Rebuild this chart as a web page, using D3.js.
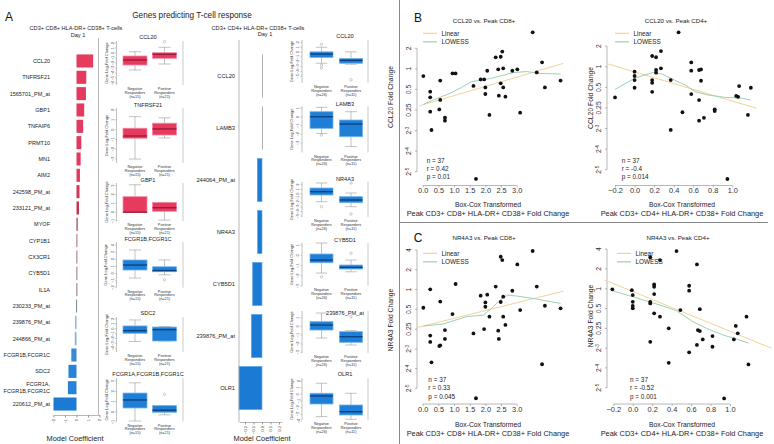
<!DOCTYPE html>
<html><head><meta charset="utf-8">
<script src="https://cdn.jsdelivr.net/npm/d3@7"></script>
<style>body{margin:0;background:#fff}svg{display:block}text{font-family:'Liberation Sans',Arial,Helvetica,sans-serif}</style>
</head><body>
<svg id="c" width="774" height="444"></svg>
<script>
// ---------------- DATA ----------------
const cd8Genes = ["CCL20","TNFRSF21","1565701_PM_at","GBP1","TNFAIP6","PRMT10","MN1","AIM2","242598_PM_at","233121_PM_at","MYOF","CYP1B1","CX3CR1","CYB5D1","IL1A","230233_PM_at","239876_PM_at","244866_PM_at","FCGR1B,FCGR1C","SDC2","FCGR1A,\nFCGR1B,FCGR1C","220612_PM_at"];
const cd8Coef = [1.45,0.85,0.82,0.67,0.58,0.42,0.36,0.30,0.26,0.22,0.10,0.05,0.03,0.02,0.01,-0.02,-0.12,-0.15,-0.45,-0.70,-0.75,-2.0];
const cd8CoefTicks = [-2,-1,0,1,2];

const cd4Genes = ["CCL20","LAMB3","244064_PM_at","NR4A3","CYB5D1","239876_PM_at","OLR1"];
const cd4Coef = [0,0,-0.055,-0.052,-0.11,-0.125,-0.27];
const cd4CoefTicks = [-0.2,-0.1,0.0,0.1,0.2];

// box stats: [lower whisker, Q1, median, Q3, upper whisker]
const cd8BoxGenes = ["CCL20","TNFRSF21","GBP1","FCGR1B,FCGR1C","SDC2","FCGR1A,FCGR1B,FCGR1C"];
const cd8BoxNeg = [[-3.4,-2.4,-1.4,-0.6,0.26],[-3.0,-0.88,-0.65,0.14,1.32],[-0.05,-0.05,0,1.75,3.1],[-0.65,0.48,1.18,1.89,3.3],[-2.6,-0.93,-0.39,0.57,1.8],[-0.9,0.37,1.15,1.83,2.83]];
const cd8BoxPos = [[-2.2,-1.06,-0.26,0.06,1.14],[-0.85,-0.55,0.07,0.65,1.2],[-0.9,0.1,0.5,1.1,1.1],[-0.2,0.24,0.4,0.94,1.9],[-2.5,-2.5,-0.2,0.35,0.45],[-0.3,-0.05,0.15,0.6,0.6]];
const cd8BoxNegOut = [[],[],[],[],[],[]];
const cd8BoxPosOut = [[2.26],[],[],[-0.9],[],[1.7]];
const cd8BoxTicks = [[2,1,0,-1,-2,-3,-4,-5,-6],[2,1,0,-1,-2,-3],[3,2,1,0,-1],[4,3,2,1,0,-1,-2],[2,1,0,-1,-2,-3,-4],[3,2,1,0,-1]];
const cd8Groups = [["Negative","Responders","(n=15)"],["Positive","Responders","(n=21)"]];

const cd4BoxGenes = ["CCL20","LAMB3","NR4A3","CYB5D1","239876_PM_at","OLR1"];
const cd4BoxNeg = [[-2.3,-1.1,-0.4,0.06,1.0],[-1.9,-1.32,0.0,0.58,1.08],[-1.79,-0.3,0.44,1.26,2.38],[-1.72,-0.72,-0.46,0.13,1.2],[-1.34,-0.41,0.17,0.56,1.57],[-3.35,-1.45,-0.25,0.16,1.66]];
const cd4BoxPos = [[-2.5,-2.3,-1.7,-1.3,0.06],[-3.4,-2.28,-0.83,-0.37,0.58],[-2.9,-2.01,-1.41,-0.67,0.15],[-1.6,-1.33,-1.17,-0.94,-0.46],[-2.15,-1.84,-1.19,-0.6,-0.49],[-3.74,-3.1,-2.6,-1.6,0.16]];
const cd4BoxNegOut = [[1.6,-2.7,-3.3],[-2.1],[-2.9],[-2.1],[],[]];
const cd4BoxPosOut = [[-5.7],[],[2.38,-4.53],[0.2],[1.14],[]];
const cd4BoxTicks = [[2,1,0,-1,-2,-3,-4,-5],[1,0,-1,-2,-3],[2,1,0,-1,-2,-3,-4,-5],[1,0,-1,-2,-3],[1,0,-1,-2,-3],[2,1,0,-1,-2,-3,-4]];
const cd4Groups = [["Negative","Responders","(n=26)"],["Positive","Responders","(n=11)"]];

// scatter data (y values are log2 fold change)
const cd8PeakX = [0.02,0.24,0.24,0.24,0.28,0.53,0.56,0.56,0.71,0.71,0.95,1.05,1.62,1.85,1.96,2.0,2.0,2.06,2.13,1.70,2.33,2.41,2.43,2.49,2.54,2.49,2.57,2.57,2.64,2.86,3.02,3.11,3.51,3.64,3.81,3.90,4.40];
const ccl20VsCD8 = [-0.35,-1.11,-1.38,-2.08,-2.97,-1.97,-1.51,-0.57,-2.37,-2.52,-0.22,-0.22,-0.83,-0.51,-0.51,-1.22,-0.90,-0.09,-2.24,-5.35,0.56,-0.02,-1.30,0.59,0.84,-0.70,0.03,-0.90,-1.35,-0.09,-0.02,-2.13,1.78,-0.17,0.32,-0.90,-0.57];
const nr4a3VsCD8 = [-0.92,0.01,-2.33,-2.65,-3.68,-2.86,-2.82,-0.61,-2.05,-2.50,-1.24,0.28,-2.22,-0.31,-2.0,-0.65,-0.87,-0.26,-1.37,-5.50,0.15,-2.08,-2.50,1.66,1.49,-0.63,-0.36,-1.37,-1.79,-0.06,1.27,-1.04,1.95,0.15,-3.78,-0.82,-0.95];
const cd4PeakXB = [-0.2,0.0,0.0,0.0,0.0,0.18,0.22,0.27,0.18,0.18,0.18,0.22,0.22,0.27,0.37,0.37,0.45,0.49,0.58,0.58,0.58,0.66,0.68,0.68,0.66,0.66,0.71,0.82,0.82,0.95,1.04,1.06,1.07,1.16,1.19];
const ccl20VsCD4 = [-1.49,-0.24,-0.45,-0.65,-1.02,0.52,0.46,0.76,-0.65,-0.78,-1.22,-0.16,-0.29,-0.08,-0.65,-3.07,1.67,-2.21,0.21,-0.19,-1.33,-0.16,-0.13,-0.68,-1.62,-2.62,-2.48,-2.07,-2.15,-5.45,-1.42,-1.46,-0.94,-2.34,-1.02];
const cd4PeakXC = [-0.21,-0.01,0.0,0.0,0.0,0.0,0.18,0.18,0.18,0.18,0.28,0.22,0.22,0.22,0.22,0.28,0.37,0.37,0.45,0.49,0.58,0.58,0.58,0.66,0.67,0.69,0.69,0.66,0.72,0.82,0.82,0.94,1.04,1.06,1.08,1.17,1.19];
const nr4a3VsCD4 = [-0.03,-0.07,-0.32,-0.66,-0.87,-0.99,-0.66,-0.74,-2.68,1.59,1.45,0.22,0.10,-0.27,-1.24,-1.41,-2.0,-3.74,1.90,-1.08,0.15,-0.10,-3.21,1.23,-2.09,-2.14,-1.03,-2.84,-2.56,-2.39,-2.93,-5.54,-2.56,-1.88,-2.25,-1.41,-3.82];

// fitted lines [x, log2 y]
const linB1 = [[-0.11,-1.80],[4.49,0.27]];
const lowB1 = [[0.02,-1.72],[0.34,-1.51],[0.87,-1.19],[1.24,-0.90],[1.56,-0.62],[1.88,-0.54],[2.15,-0.47],[2.47,-0.35],[2.89,-0.18],[3.32,-0.13],[3.74,-0.22],[4.40,-0.25]];
const linB2 = [[-0.27,0.13],[1.25,-2.02]];
const lowB2 = [[-0.2,-1.10],[0.0,-0.56],[0.18,-0.29],[0.28,-0.35],[0.41,-0.65],[0.52,-0.89],[0.62,-1.21],[0.75,-1.37],[0.93,-1.49],[1.10,-1.53],[1.19,-1.62]];
const linC1 = [[-0.15,-1.91],[4.5,-0.08]];
const lowC1 = [[0.02,-1.85],[0.66,-1.74],[1.40,-1.37],[1.94,-1.29],[2.20,-0.95],[2.47,-0.53],[2.70,-0.28],[3.0,-0.33],[3.53,-0.45],[3.96,-0.58],[4.40,-0.70]];
const linC2 = [[-0.29,0.44],[1.43,-3.01]];
const lowC2 = [[-0.21,-0.1],[0.0,-0.40],[0.31,-0.87],[0.45,-1.11],[0.62,-1.67],[0.76,-2.0],[0.93,-2.34],[1.07,-2.54],[1.19,-2.75]];

const cd8XTicks = [0,0.5,1,1.5,2,2.5,3];
const cd4XTicks = [-0.2,0,0.2,0.4,0.6,0.8,1.0];
const bYTicks = [1,0,-1,-2,-3,-4,-5];
const cYTicks = [2,1,0,-1,-2,-3,-4,-5];
const statsB1 = ["n = 37","r = 0.42","p = 0.01"];
const statsB2 = ["n = 37","r = -0.4","p = 0.014"];
const statsC1 = ["n = 37","r = 0.33","p = 0.045"];
const statsC2 = ["n = 37","r = -0.52","p = 0.001"];

// ---------------- DRAW ----------------
const svg = d3.select("#c");
function T(x,y,s,size,o={}){
  const t = svg.append("text").attr("x",x).attr("y",y).attr("font-size",size)
    .attr("text-anchor",o.anchor||"middle").attr("dominant-baseline","central")
    .attr("fill",o.fill||"#222").text(s);
  if(o.rot) t.attr("transform",`rotate(${o.rot},${x},${y})`);
  return t;
}
function L(x1,y1,x2,y2,c,w){svg.append("line").attr("x1",x1).attr("y1",y1).attr("x2",x2).attr("y2",y2).attr("stroke",c).attr("stroke-width",w);}

T(9,17,"A",12,{fill:"#111"});
T(192,15,"Genes predicting T-cell response",8.2);
T(76,28,"CD3+ CD8+ HLA-DR+ CD38+ T-cells",5.6);
T(78,34.5,"Day 1",5.6);
T(258,27.5,"CD3+ CD4+ HLA-DR+ CD38+ T-cells",5.6);
T(265,33.5,"Day 1",5.6);

// left coefficient bar chart
const yL = d3.scaleBand().domain(cd8Genes).range([52.8,412.2]).paddingInner(0.2).paddingOuter(0.1);
const xL = d3.scaleLinear().domain([-2,2]).range([53.5,99.5]);
const colL = d3.scaleLinear().domain([-2,-0.5,-0.13,-0.01,0.02,0.12,0.3,1.5])
  .range(["#1b7bd4","#2a84d6","#86b6e2","#556060","#8a4a50","#9a2e45","#e23a5e","#e63a5f"]);
svg.append("g").selectAll("rect").data(cd8Genes).join("rect")
  .attr("x",(d,i)=>Math.min(xL(0),xL(cd8Coef[i])))
  .attr("y",d=>yL(d)).attr("height",yL.bandwidth())
  .attr("width",(d,i)=>Math.max(0.8,Math.abs(xL(cd8Coef[i])-xL(0))))
  .attr("fill",(d,i)=>colL(cd8Coef[i]));
cd8Genes.forEach(g=>{
  const parts=g.split("\n"); const c=yL(g)+yL.bandwidth()/2;
  parts.forEach((p,k)=>T(50,c+(k-(parts.length-1)/2)*6.5,p,5.5,{anchor:"end"}));
});
L(98.5,38,98.5,415,"#999",0.7);
const axL = svg.append("g").attr("transform","translate(0,415)")
  .call(d3.axisBottom(xL).tickValues(cd8CoefTicks).tickSize(2.5).tickSizeOuter(0).tickFormat(d3.format("d")));
axL.select(".domain").attr("stroke","#999").attr("stroke-width",0.7);
axL.selectAll(".tick line").attr("stroke","#999");
axL.selectAll(".tick text").attr("font-size",4).attr("fill","#444").attr("transform","rotate(-90)")
  .attr("x",-4).attr("y",0).attr("dy","0.35em").attr("text-anchor","end");
T(75,438,"Model Coefficient",7.4);

// middle coefficient bar chart
const yM = d3.scaleBand().domain(cd4Genes).range([50,414]).paddingInner(0.17).paddingOuter(0.085);
const xM = d3.scaleLinear().domain([-0.27,0.235]).range([239,282]);
svg.append("g").selectAll("rect").data(cd4Genes).join("rect")
  .attr("x",(d,i)=>Math.min(xM(0),xM(cd4Coef[i])))
  .attr("y",d=>yM(d)).attr("height",yM.bandwidth())
  .attr("width",(d,i)=>Math.max(0.8,Math.abs(xM(cd4Coef[i])-xM(0))))
  .attr("fill",(d,i)=>cd4Coef[i]===0?"#9a9a9a":"#1b7bd4")
  .attr("stroke",(d,i)=>cd4Coef[i]===0?"none":"#5aa6e6").attr("stroke-width",0.6);
cd4Genes.forEach(g=>T(235,yM(g)+yM.bandwidth()/2,g,5.7,{anchor:"end"}));
L(239,40,239,422,"#999",0.7);
const axM = svg.append("g").attr("transform","translate(0,422)")
  .call(d3.axisBottom(xM).tickValues(cd4CoefTicks).tickSize(2.5).tickSizeOuter(0).tickFormat(d3.format(".1f")));
axM.select(".domain").attr("stroke","#999").attr("stroke-width",0.7);
axM.selectAll(".tick line").attr("stroke","#999");
axM.selectAll(".tick text").attr("font-size",4.2).attr("fill","#444").attr("transform","rotate(-90)")
  .attr("x",-4).attr("y",0).attr("dy","0.35em").attr("text-anchor","end");
T(262,438,"Model Coefficient",7.4);

// box plot columns
const red = {fill:"#e63a5f",stroke:"#f48aa2",med:"#9c1737"};
const blue = {fill:"#1f7fd6",stroke:"#72b6ec",med:"#0b3e7c"};
const boxCols = [
 {genes:cd8BoxGenes,neg:cd8BoxNeg,pos:cd8BoxPos,negOut:cd8BoxNegOut,posOut:cd8BoxPosOut,ticks:cd8BoxTicks,groups:cd8Groups,
  axisX:116.5,rightX:183,centers:[135,164.5],bw:24,titleX:148,pal:[red,red,red,blue,blue,blue],
  panels:[{d:[2.4,-6.4],r:[41,85],ty:37},{d:[2.2,-3.4],r:[108,163],ty:105},{d:[3.3,-1.0],r:[183,221],ty:180},
          {d:[4.4,-2.0],r:[242.2,287.6],ty:239},{d:[2.4,-4.75],r:[317,352],ty:313},{d:[3.3,-0.95],r:[378,421.5],ty:374}]},
 {genes:cd4BoxGenes,neg:cd4BoxNeg,pos:cd4BoxPos,negOut:cd4BoxNegOut,posOut:cd4BoxPosOut,ticks:cd4BoxTicks,groups:cd4Groups,
  axisX:302,rightX:368,centers:[321.5,351],bw:23,titleX:345,pal:[blue,blue,blue,blue,blue,blue],
  panels:[{d:[2.5,-6.37],r:[40,83],ty:36},{d:[1.23,-4.08],r:[106,152.5],ty:104},{d:[2.6,-5.2],r:[182,217],ty:179},
          {d:[1.2,-2.98],r:[243,286],ty:240},{d:[1.8,-3.08],r:[311,353],ty:313},{d:[2.45,-3.85],r:[378,420],ty:374}]}
];
boxCols.forEach(col=>{
  col.panels.forEach((p,i)=>{
    const y = d3.scaleLinear().domain(p.d).range(p.r);
    const pal = col.pal[i];
    T(col.titleX,p.ty,col.genes[i],5.6);
    L(col.axisX,p.r[0],col.axisX,p.r[1],"#999",0.6);
    L(col.rightX,p.r[0],col.rightX,p.r[1],"#aaa",0.6);
    col.ticks[i].forEach(v=>{
      L(col.axisX-1.5,y(v),col.axisX,y(v),"#999",0.5);
      T(col.axisX-4,y(v),d3.format("d")(v),4,{rot:-90,fill:"#444"});
    });
    T(col.axisX-10.5,(p.r[0]+p.r[1])/2,"Gene Log,Fold Change",4,{rot:-90,fill:"#333"});
    [col.neg[i],col.pos[i]].forEach((s,k)=>{
      const cx = col.centers[k], hw = col.bw/2;
      L(cx,y(s[4]),cx,y(s[3]),"#999",0.6);
      L(cx,y(s[1]),cx,y(s[0]),"#999",0.6);
      L(cx-hw/2,y(s[4]),cx+hw/2,y(s[4]),"#999",0.6);
      L(cx-hw/2,y(s[0]),cx+hw/2,y(s[0]),"#999",0.6);
      svg.append("rect").attr("x",cx-hw).attr("y",y(s[3])).attr("width",col.bw)
        .attr("height",Math.max(0.8,y(s[1])-y(s[3]))).attr("fill",pal.fill).attr("stroke",pal.stroke).attr("stroke-width",0.8);
      L(cx-hw,y(s[2]),cx+hw,y(s[2]),pal.med,1.3);
      (k===0?col.negOut[i]:col.posOut[i]).forEach(o=>{
        svg.append("circle").attr("cx",cx).attr("cy",y(o)).attr("r",1.2).attr("fill","none").attr("stroke","#999").attr("stroke-width",0.5);
      });
      col.groups[k].forEach((t,j)=>T(cx,p.r[1]+4+j*3.8,t,3.8,{fill:"#333"}));
    });
  });
});

// right panels frame
L(399.5,0,399.5,444,"#8a8a8a",1);
L(399.5,222.5,768,222.5,"#8a8a8a",1);
T(418,18,"B",12,{fill:"#111"});
T(418,238,"C",12,{fill:"#111"});

const linCol = "#f3d29a", lowCol = "#9dd0b4";
const scatters = [
 {title:"CCL20 vs. Peak CD8+",x:cd8PeakX,y:ccl20VsCD8,lin:linB1,low:lowB1,stats:statsB1,ylab:"CCL20 Fold Change",xlab:"Peak CD3+ CD8+ HLA-DR+ CD38+ Fold Change",
  xt:cd8XTicks,xf:d3.format(".1f"),yt:bYTicks,
  xd:[-0.15,4.5],xr:[418,563.7],yd:[2.1,-5.65],yr:[25.7,185.1],axY:185.5,axX:417,tx:484,ty:20,lx:423,ly:33.3,sx:426.7,sy:160,ylx:390,yly:97,xlx:488,xly:204},
 {title:"CCL20 vs. Peak CD4+",x:cd4PeakXB,y:ccl20VsCD4,lin:linB2,low:lowB2,stats:statsB2,ylab:"CCL20 Fold Change",xlab:"Peak CD3+ CD4+ HLA-DR+ CD38+ Fold Change",
  xt:cd4XTicks,xf:d3.format(".1f"),yt:bYTicks,
  xd:[-0.27,1.3],xr:[608.2,761.6],yd:[2.0,-5.75],yr:[25.5,185.2],axY:185.5,axX:607,tx:676,ty:20,lx:615,ly:33.3,sx:621.7,sy:160,ylx:590,yly:98,xlx:682,xly:204},
 {title:"NR4A3 vs. Peak CD8+",x:cd8PeakX,y:nr4a3VsCD8,lin:linC1,low:lowC1,stats:statsC1,ylab:"NR4A3 Fold Change",xlab:"Peak CD3+ CD8+ HLA-DR+ CD38+ Fold Change",
  xt:cd8XTicks,xf:d3.format(".1f"),yt:cYTicks,
  xd:[-0.15,4.5],xr:[418,563.7],yd:[2.3,-5.7],yr:[244.1,402.2],axY:404,axX:417,tx:484,ty:237,lx:423,ly:253.3,sx:428.3,sy:379.3,ylx:390,yly:320,xlx:488,xly:424},
 {title:"NR4A3 vs. Peak CD4+",x:cd4PeakXC,y:nr4a3VsCD4,lin:linC2,low:lowC2,stats:statsC2,ylab:"NR4A3 Fold Change",xlab:"Peak CD3+ CD4+ HLA-DR+ CD38+ Fold Change",
  xt:cd4XTicks,xf:d3.format(".1f"),yt:cYTicks,
  xd:[-0.3,1.42],xr:[603.6,770.8],yd:[2.3,-5.7],yr:[243.2,401.6],axY:404,axX:607,tx:678,ty:237,lx:617,ly:253.3,sx:630,sy:379.3,ylx:590,yly:316,xlx:682,xly:424}
];
function powLabel(l){
  if(l>=-2) return {base:String(Math.pow(2,l)),sup:null};
  return {base:"2",sup:String(l)};
}
scatters.forEach(s=>{
  const x = d3.scaleLinear().domain(s.xd).range(s.xr);
  const y = d3.scaleLinear().domain(s.yd).range(s.yr);
  T(s.tx,s.ty,s.title,6.2);
  // x axis
  const ax = svg.append("g").attr("transform",`translate(0,${s.axY})`)
    .call(d3.axisBottom(x).tickValues(s.xt).tickSize(2).tickSizeOuter(0).tickFormat(s.xf));
  ax.select(".domain").remove();
  L(x(s.xt[0]),s.axY,x(s.xt[s.xt.length-1]),s.axY,"#888",0.6);
  ax.selectAll(".tick line").attr("stroke","#888").attr("stroke-width",0.6);
  ax.selectAll(".tick text").attr("font-size",7.4).attr("fill","#333").attr("y",2.5).attr("dy","0.71em");
  // y axis
  L(s.axX,y(s.yt[0]),s.axX,y(s.yt[s.yt.length-1]),"#888",0.6);
  s.yt.forEach(l=>{
    L(s.axX-2,y(l),s.axX,y(l),"#888",0.6);
    const lab = powLabel(l);
    const t = svg.append("text").attr("x",s.axX-5.5).attr("y",y(l)).attr("font-size",6.8).attr("fill","#333")
      .attr("text-anchor","middle").attr("transform",`rotate(-90,${s.axX-5.5},${y(l)})`);
    t.append("tspan").text(lab.base);
    if(lab.sup) t.append("tspan").attr("dy",-2.8).attr("font-size",4.6).text(lab.sup);
  });
  T(s.ylx,s.yly,s.ylab,6.8,{rot:-90});
  T(s.xlx,s.xly,"Box-Cox Transformed",6.8);
  T(s.xlx,s.xly+9,s.xlab,7.4);
  const line = d3.line().x(d=>x(d[0])).y(d=>y(d[1]));
  svg.append("path").attr("d",line(s.lin)).attr("fill","none").attr("stroke",linCol).attr("stroke-width",1);
  svg.append("path").attr("d",line(s.low)).attr("fill","none").attr("stroke",lowCol).attr("stroke-width",1);
  svg.append("g").selectAll("circle").data(s.x).join("circle")
    .attr("cx",d=>x(d)).attr("cy",(d,i)=>y(s.y[i])).attr("r",1.9).attr("fill","#111");
  // legend
  L(s.lx,s.ly,s.lx+14,s.ly,linCol,1.2);
  L(s.lx,s.ly+8.5,s.lx+14,s.ly+8.5,lowCol,1.2);
  T(s.lx+18.5,s.ly,"Linear",6.4,{anchor:"start"});
  T(s.lx+18.5,s.ly+8.5,"LOWESS",6.4,{anchor:"start"});
  s.stats.forEach((t,k)=>T(s.sx,s.sy+k*8.4,t,6.4,{anchor:"start"}));
});
</script>
</body></html>
